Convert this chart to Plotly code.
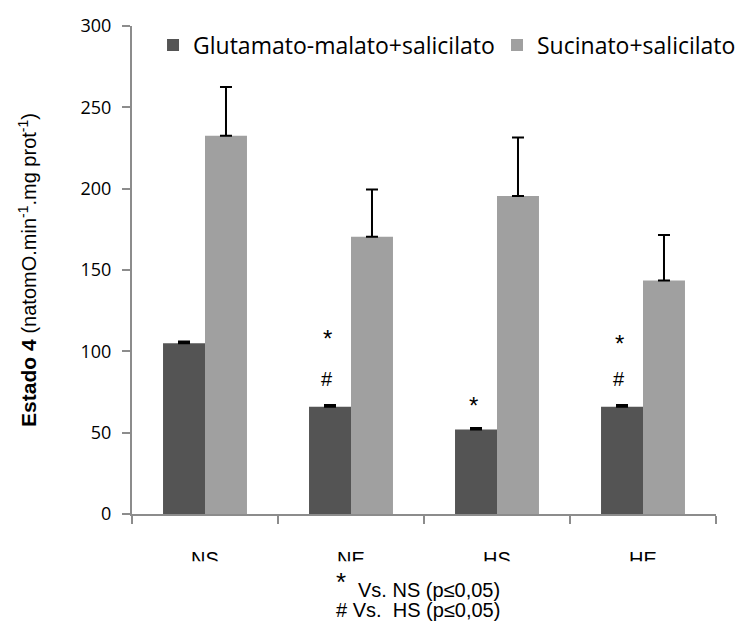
import plotly.graph_objects as go

categories = ["NS", "NE", "HS", "HE"]
series_names = ["Glutamato-malato+salicilato", "Sucinato+salicilato"]
glut_values = [105, 66, 52, 66]
glut_errors = [1, 1, 0.8, 1]
suc_values = [232.5, 170.5, 195.5, 143.5]
suc_errors = [30, 29, 36, 28]
y_ticks = [0, 50, 100, 150, 200, 250, 300]
# significance marks over the first series: (category, symbol, y value)
sig_marks = [("NE", "*", 111), ("NE", "#", 83), ("HS", "*", 70), ("HE", "*", 108), ("HE", "#", 83)]

dark = "#545454"
light = "#a0a0a0"

fig = go.Figure()
fig.add_trace(go.Bar(
    x=categories, y=glut_values, name=series_names[0], legend="legend", showlegend=True,
    marker=dict(color=dark, line=dict(width=0)),
    error_y=dict(type="data", array=glut_errors, arrayminus=[0]*4, symmetric=False,
                 color="black", thickness=2, width=6),
))
fig.add_trace(go.Bar(
    x=categories, y=suc_values, name=series_names[1], legend="legend2", showlegend=True,
    marker=dict(color=light, line=dict(width=0)),
    error_y=dict(type="data", array=suc_errors, arrayminus=[0]*4, symmetric=False,
                 color="black", thickness=2, width=6),
))

annotations = []
for cat, sym, yv in sig_marks:
    is_star = sym == "*"
    annotations.append(dict(x=cat, y=yv, xref="x", yref="y", text=sym, showarrow=False,
                            xshift=-24, yshift=(-5 if is_star else 0),
                            font=dict(family="Liberation Sans", size=(24 if is_star else 20), color="black")))

foot = dict(family="Liberation Sans", size=20, color="black")
annotations += [
    dict(x=0.358, y=-0.139, xref="paper", yref="paper", xanchor="center", yanchor="middle",
         text="*", showarrow=False, font=dict(family="Liberation Sans", size=26, color="black")),
    dict(x=0.3836, y=-0.1557, xref="paper", yref="paper", xanchor="left", yanchor="middle",
         text="Vs. NS (p≤0,05)", showarrow=False, font=foot),
    dict(x=0.3459, y=-0.1967, xref="paper", yref="paper", xanchor="left", yanchor="middle",
         text="# Vs.\u00a0 HS (p≤0,05)", showarrow=False, font=foot),
]

legend_common = dict(orientation="h", y=0.961, xanchor="left", yanchor="middle",
                     font=dict(family="Open Sans", size=23, color="black"),
                     bgcolor="rgba(0,0,0,0)", itemwidth=30, visible=True)

fig.update_layout(
    width=742, height=622,
    margin=dict(l=132, r=26, t=26, b=108, autoexpand=False),
    paper_bgcolor="white", plot_bgcolor="white",
    barmode="group", bargap=0.425, bargroupgap=0,
    showlegend=True,
    font=dict(family="Open Sans", size=16, color="black"),
    legend=dict(x=0.036, **legend_common),
    legend2=dict(x=0.625, **legend_common),
    xaxis=dict(type="category", showline=True, linecolor="#8c8c8c", linewidth=2,
               ticks="outside", tickson="boundaries", ticklen=8, tickcolor="#8c8c8c", tickwidth=2,
               tickfont=dict(family="Liberation Sans", size=20, color="black"),
               ticklabelstandoff=26, showgrid=False),
    yaxis=dict(range=[0, 300], tickvals=y_ticks, showline=True, linecolor="#8c8c8c", linewidth=2,
               ticks="outside", ticklen=8, tickcolor="#8c8c8c", tickwidth=2, showgrid=False,
               zeroline=False, ticklabelstandoff=7,
               tickfont=dict(family="Open Sans", size=18, color="black"),
               title=dict(text="<b>Estado 4</b> <span style='font-size:20px'>(natomO.min<sup>-1</sup>.mg prot<sup>-1</sup>)</span>",
                          font=dict(family="Liberation Sans", size=21, color="black"), standoff=38)),
    annotations=annotations,
    shapes=[dict(type="rect", xref="paper", yref="paper", x0=-0.3, x1=1.1, y0=-0.3, y1=-0.097,
                 fillcolor="white", line=dict(width=0), layer="above")],
)

fig.write_html("out.html")
